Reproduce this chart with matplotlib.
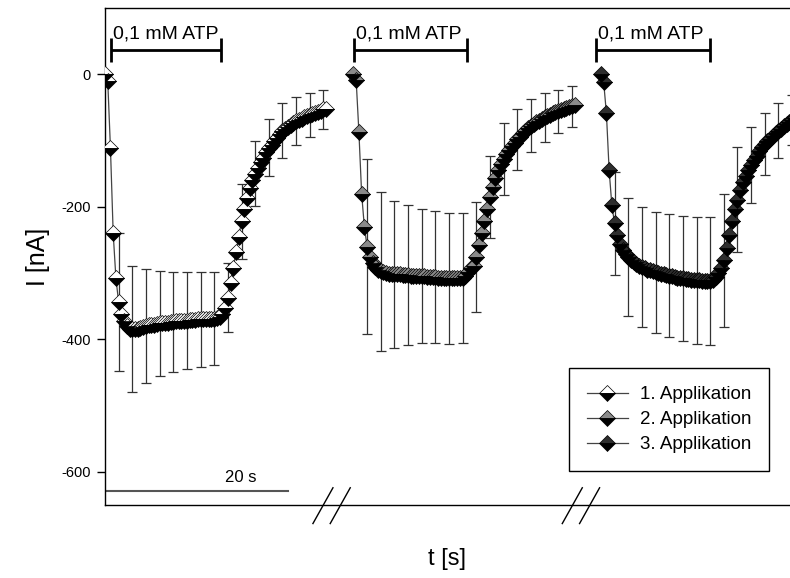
import numpy as np
import matplotlib.pyplot as plt

plt.rcParams['font.family'] = ['Liberation Sans', 'DejaVu Sans']
plt.rcParams['axes.unicode_minus'] = False

# sampling interval and start of each application on the time axis (s)
dt = 0.3
t_start = [0.0, 27.3, 54.5]
err_step = 5  # SEM drawn on every 5th sample

labels = ['1. Applikation', '2. Applikation', '3. Applikation']
top_colors = ['white', '#8a8a8a', '#2e2e2e']

# mean current (nA)
app1 = [0, -10, -112, -240, -308, -344, -362, -373, -380, -384,
        -385, -385, -384, -383, -382, -380, -379, -379, -378, -377,
        -376, -376, -375, -375, -374, -374, -373, -373, -372, -372,
        -372, -371, -371, -371, -370, -370, -370, -370, -370, -369,
        -369, -368, -366, -362, -352, -337, -315, -292, -268, -245,
        -222, -203, -186, -172, -160, -150, -141, -133, -126, -118,
        -111, -106, -101, -96, -90, -85, -82, -79, -76, -73,
        -71, -69, -67, -65, -63, -61, -60, -58, -57, -55,
        -53, -52]
app2 = [0, -9, -87, -180, -230, -260, -276, -285, -291, -295,
        -297, -299, -300, -301, -301, -302, -302, -302, -303, -303,
        -303, -304, -304, -304, -305, -305, -305, -306, -306, -306,
        -306, -307, -307, -307, -307, -308, -308, -308, -308, -308,
        -307, -305, -298, -293, -290, -276, -258, -240, -222, -203,
        -185, -170, -156, -145, -136, -128, -121, -114, -108, -103,
        -98, -94, -89, -85, -81, -78, -75, -72, -70, -67,
        -65, -63, -61, -59, -57, -56, -54, -52, -51, -50,
        -48, -47]
app3 = [0, -12, -59, -145, -198, -225, -243, -256, -265, -271,
        -276, -280, -284, -287, -289, -291, -293, -295, -296, -297,
        -299, -300, -301, -302, -303, -304, -305, -306, -307, -307,
        -308, -309, -309, -310, -310, -311, -311, -312, -312, -312,
        -312, -310, -306, -300, -292, -281, -262, -242, -222, -204,
        -189, -175, -163, -153, -144, -137, -130, -123, -116, -110,
        -105, -101, -97, -93, -89, -85, -82, -78, -75, -72,
        -69, -66]

# error at samples 5, 10, 15, ...
err1 = [104, 95, 86, 79, 75, 73, 71, 70, 52, 57, 49, 43, 41, 36, 33, 30]
err2 = [132, 120, 111, 105, 101, 100, 99, 98, 83, 62, 54, 46, 40, 37, 33, 31]
err3 = [78, 89, 90, 91, 93, 94, 96, 97, 100, 79, 57, 47, 41, 38]

atp_on = [0.7, 27.4, 54.0]
atp_off = [12.8, 39.8, 66.5]
breaks = [24.9, 52.3]

fig = plt.figure(figsize=(7.9, 5.78), dpi=100)
ax = fig.add_axes([105 / 790, 1 - 505 / 578, 685 / 790, 497 / 578])

for t0, vals, err, lab, col in zip(t_start, [app1, app2, app3],
                                   [err1, err2, err3], labels, top_colors):
    v = np.array(vals, dtype=float)
    t = t0 + dt * np.arange(len(v))
    idx = np.arange(err_step, err_step * (len(err) + 1), err_step)
    ax.errorbar(t[idx], v[idx], yerr=err, fmt='none', ecolor='#333333',
                elinewidth=0.9, capsize=3.6, capthick=0.9, zorder=2)
    ax.plot(t, v, color='#444444', lw=0.9, marker='D', ms=8.5,
            fillstyle='top', markerfacecolor=col, markerfacecoloralt='black',
            markeredgecolor='black', markeredgewidth=0.5, zorder=3, label=lab)

# ATP application bars
for a, b in zip(atp_on, atp_off):
    ax.plot([a, b], [37, 37], color='black', lw=2, solid_capstyle='butt')
    ax.plot([a, a], [19, 54], color='black', lw=2, solid_capstyle='butt')
    ax.plot([b, b], [19, 54], color='black', lw=2, solid_capstyle='butt')
    ax.text(a + 0.2, 54, '0,1 mM ATP', fontsize=14, ha='left', va='baseline')

# time scale bar
ax.plot([0.1, 20.1], [-629, -629], color='#555555', lw=1.5)
ax.text(14.9, -615, '20 s', fontsize=12, ha='center', va='baseline')

# axis break marks
for b in breaks:
    for dx in (-0.95, 0.95):
        ax.plot([b + dx - 1.1, b + dx + 1.1], [-678, -624], color='black',
                lw=1, clip_on=False)

ax.set_xlim(0, 685 / 9.1)
ax.set_ylim(-650, 100)
ax.set_yticks([0, -200, -400, -600])
ax.tick_params(axis='y', direction='out', length=6, width=1, labelsize=10.5, pad=4)
ax.set_xticks([])
ax.spines['right'].set_visible(False)
for s in ['left', 'top', 'bottom']:
    ax.spines[s].set_linewidth(1)
ax.set_ylabel('I [nA]', fontsize=18, labelpad=8)
ax.set_xlabel('t [s]', fontsize=17, labelpad=31)

leg = ax.legend(loc='lower left', bbox_to_anchor=(0.677, 0.068),
                borderaxespad=0, fontsize=13.5,
                numpoints=1, handlelength=2.2, handletextpad=0.65,
                borderpad=0.95, labelspacing=0.42, fancybox=False,
                framealpha=1, edgecolor='black')
leg.get_frame().set_linewidth(1)

fig.savefig('out.png', dpi=100)
